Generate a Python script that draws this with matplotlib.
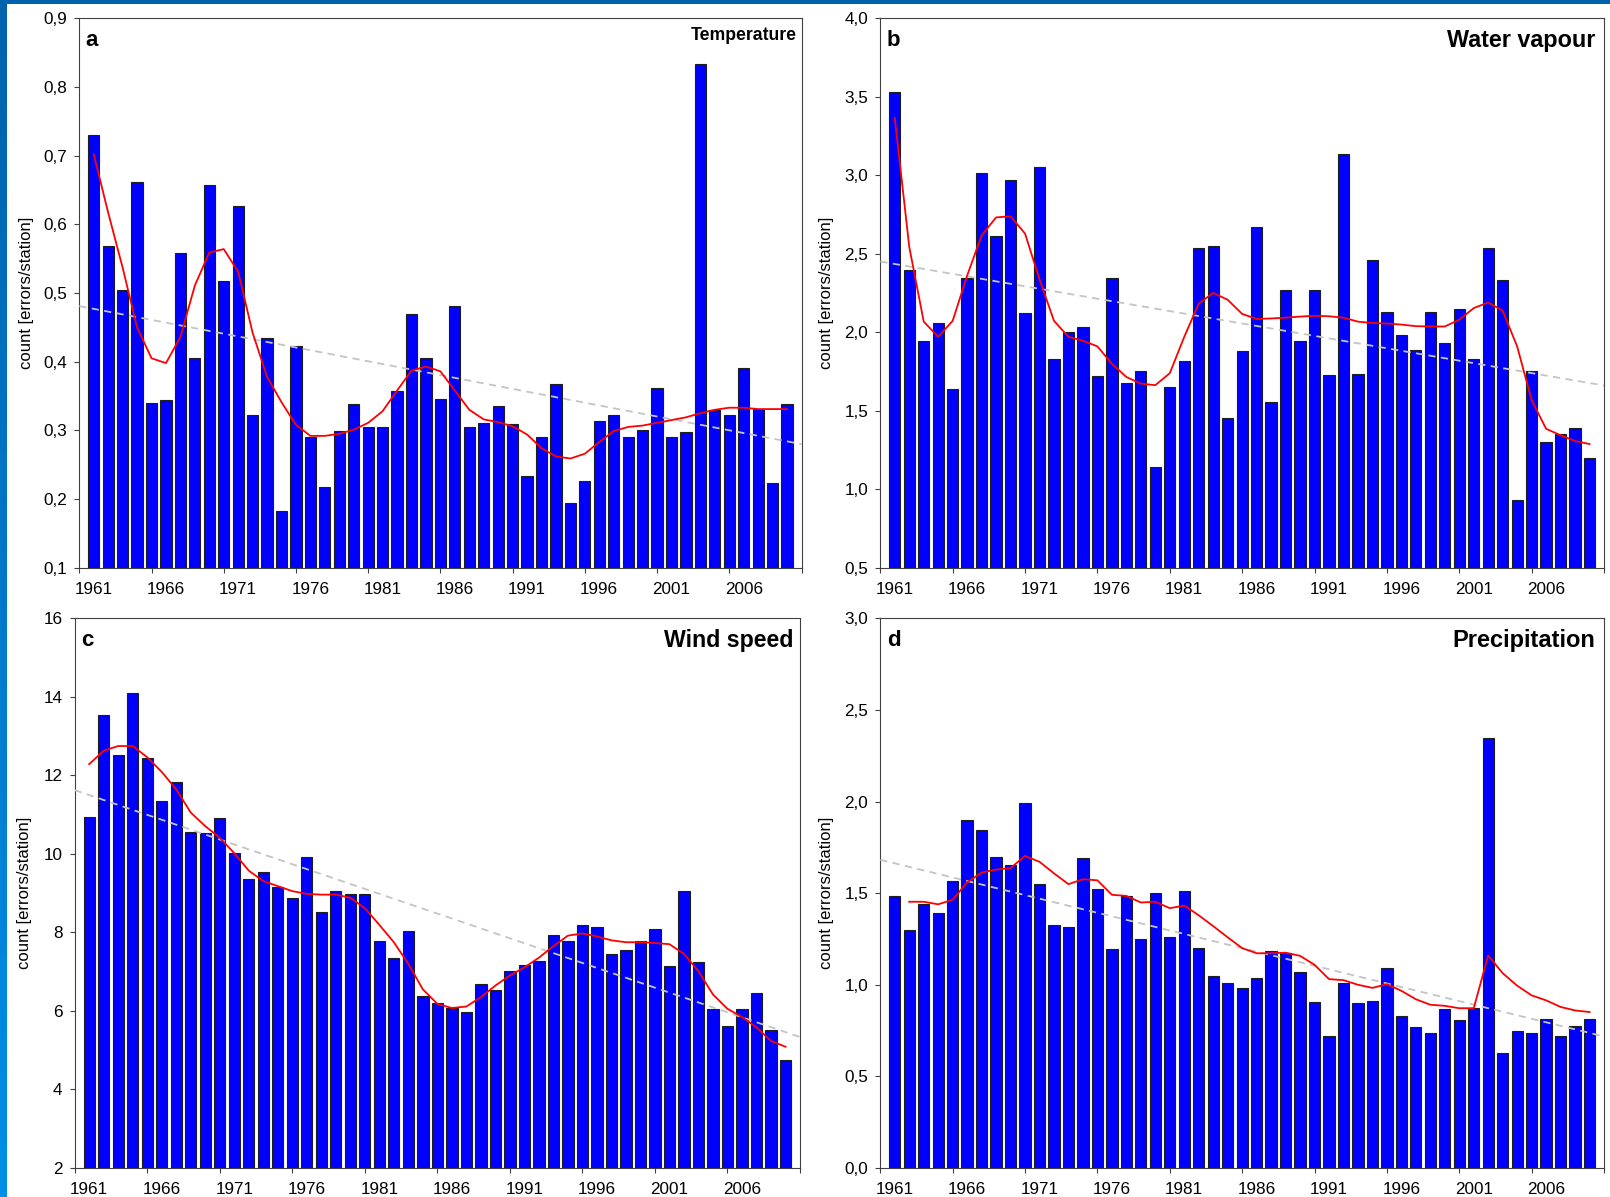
import numpy as np
import matplotlib
matplotlib.use("Agg")
import matplotlib.pyplot as plt
from matplotlib.ticker import FuncFormatter
from matplotlib.colors import LinearSegmentedColormap
from matplotlib.patches import Rectangle

# ---------------- data ----------------
years = list(range(1961, 2010))
trend_years = [1960, 2010]
x_major_ticks = [1960, 1965, 1970, 1975, 1980, 1985, 1990, 1995, 2000, 2005, 2010]
x_tick_labels = [1961, 1966, 1971, 1976, 1981, 1986, 1991, 1996, 2001, 2006]

temp_bars = [0.730, 0.569, 0.504, 0.662, 0.340, 0.344, 0.559, 0.406, 0.658, 0.518,
             0.627, 0.323, 0.435, 0.182, 0.423, 0.291, 0.218, 0.299, 0.338, 0.305,
             0.305, 0.357, 0.470, 0.406, 0.346, 0.481, 0.305, 0.311, 0.335, 0.309,
             0.234, 0.291, 0.367, 0.194, 0.226, 0.314, 0.323, 0.291, 0.300, 0.361,
             0.290, 0.297, 0.833, 0.330, 0.322, 0.391, 0.331, 0.223, 0.338]
temp_smooth = [0.702, 0.617, 0.537, 0.450, 0.405, 0.398, 0.436, 0.511, 0.559, 0.564,
               0.531, 0.442, 0.378, 0.341, 0.308, 0.292, 0.292, 0.295, 0.301, 0.311,
               0.328, 0.358, 0.387, 0.393, 0.386, 0.358, 0.330, 0.316, 0.312, 0.306,
               0.294, 0.274, 0.262, 0.259, 0.266, 0.283, 0.299, 0.305, 0.307, 0.311,
               0.315, 0.319, 0.325, 0.330, 0.333, 0.333, 0.331, 0.331, 0.331]
temp_trend = [0.481, 0.280]

vap_bars = [3.532, 2.395, 1.944, 2.056, 1.637, 2.344, 3.017, 2.612, 2.971, 2.120,
            3.051, 1.827, 2.005, 2.034, 1.722, 2.349, 1.680, 1.751, 1.139, 1.654,
            1.817, 2.534, 2.551, 1.454, 1.883, 2.671, 1.556, 2.268, 1.944, 2.268,
            1.729, 3.137, 1.734, 2.459, 2.127, 1.983, 1.890, 2.129, 1.929, 2.149,
            1.827, 2.539, 2.332, 0.932, 1.756, 1.300, 1.349, 1.390, 1.202]
vap_smooth = [3.366, 2.544, 2.068, 1.971, 2.073, 2.361, 2.617, 2.732, 2.739, 2.629,
              2.337, 2.073, 1.971, 1.946, 1.910, 1.800, 1.715, 1.673, 1.663, 1.739,
              1.971, 2.183, 2.251, 2.207, 2.117, 2.085, 2.088, 2.093, 2.100, 2.105,
              2.102, 2.093, 2.068, 2.059, 2.056, 2.049, 2.039, 2.037, 2.037, 2.080,
              2.154, 2.190, 2.137, 1.910, 1.568, 1.385, 1.344, 1.307, 1.288]
vap_trend = [2.451, 1.661]

wind_bars = [10.943, 13.536, 12.520, 14.107, 12.432, 11.338, 11.821, 10.549, 10.520, 10.914,
             10.027, 9.356, 9.544, 9.169, 8.873, 9.908, 8.509, 9.061, 8.982, 8.982,
             7.769, 7.355, 8.026, 6.370, 6.192, 6.064, 5.966, 6.695, 6.537, 7.030,
             7.178, 7.267, 7.937, 7.769, 8.183, 8.134, 7.454, 7.543, 7.769, 8.095,
             7.139, 9.061, 7.247, 6.054, 5.620, 6.054, 6.449, 5.502, 4.743]
wind_smooth = [12.284, 12.629, 12.747, 12.747, 12.461, 12.087, 11.643, 11.052, 10.707, 10.411,
               10.017, 9.573, 9.307, 9.179, 9.051, 8.982, 8.962, 8.962, 8.883, 8.617,
               8.193, 7.750, 7.200, 6.550, 6.180, 6.074, 6.113, 6.350, 6.646, 6.902,
               7.109, 7.355, 7.651, 7.917, 7.976, 7.897, 7.799, 7.750, 7.750, 7.730,
               7.700, 7.454, 7.010, 6.419, 6.054, 5.847, 5.581, 5.236, 5.088]
wind_trend = [11.624, 5.335]

prec_bars = [1.487, 1.301, 1.443, 1.390, 1.565, 1.897, 1.846, 1.698, 1.656, 1.990,
             1.551, 1.325, 1.314, 1.694, 1.523, 1.194, 1.483, 1.251, 1.502, 1.261,
             1.513, 1.198, 1.048, 1.010, 0.980, 1.039, 1.187, 1.175, 1.069, 0.906,
             0.718, 1.010, 0.900, 0.910, 1.090, 0.832, 0.769, 0.735, 0.868, 0.805,
             0.872, 2.345, 0.625, 0.750, 0.735, 0.813, 0.718, 0.777, 0.813]
prec_smooth_years = list(range(1962, 2010))
prec_smooth = [1.453, 1.453, 1.439, 1.464, 1.559, 1.612, 1.629, 1.637, 1.703,
               1.671, 1.608, 1.549, 1.576, 1.570, 1.491, 1.485, 1.449, 1.453, 1.418,
               1.432, 1.379, 1.320, 1.259, 1.200, 1.172, 1.172, 1.175, 1.158, 1.109,
               1.031, 1.025, 1.000, 0.983, 1.003, 0.967, 0.921, 0.891, 0.885, 0.872,
               0.872, 1.160, 1.063, 0.995, 0.942, 0.915, 0.879, 0.860, 0.851]
prec_trend = [1.682, 0.718]

ylabel_text = "count [errors/station]"

# ---------------- figure ----------------
plt.rcParams['font.family'] = ['Liberation Sans', 'DejaVu Sans']
W, H = 1610, 1197
fig = plt.figure(figsize=(W / 100, H / 100), dpi=100)
fig.patch.set_facecolor('white')

# decorative blue frame strips
sax = fig.add_axes([0, 0, 6 / W, 1])
grad = np.linspace(0, 1, 256).reshape(-1, 1)
cmap = LinearSegmentedColormap.from_list('strip', ['#0062AC', '#008FE6'])
sax.imshow(grad, aspect='auto', cmap=cmap, extent=[0, 1, 1, 0])
sax.axis('off')
fig.patches.append(Rectangle((0, 1 - 4 / H), 1, 4 / H, transform=fig.transFigure,
                             facecolor='#0062AC', edgecolor='none', zorder=10))


def comma1(v, p):
    return f"{v:.1f}".replace('.', ',')


def integer(v, p):
    return f"{v:.0f}"


def panel(rect, bars, sm_years, smooth, trend, ylim, yticks, fmt,
          letter, title, tsize, tdx, tdy, ylab_x):
    l, r, t, b = rect
    ax = fig.add_axes([l / W, 1 - b / H, (r - l) / W, (b - t) / H])
    wpx, hpx = r - l, b - t
    ax.bar(years, bars, width=0.78, color='#0000FF', edgecolor='#1e1e1e',
           linewidth=0.8, zorder=2)
    ax.plot(trend_years, trend, color='#C4C4C4', lw=1.3, ls=(0, (4, 3)), zorder=3)
    ax.plot(sm_years, smooth, color='#FF0000', lw=1.3, zorder=4)
    ax.set_xlim(1960, 2010)
    ax.set_ylim(*ylim)
    ax.set_yticks(yticks)
    ax.yaxis.set_major_formatter(FuncFormatter(fmt))
    ax.set_xticks(x_major_ticks)
    ax.set_xticklabels([])
    ax.set_xticks(x_tick_labels, minor=True)
    ax.set_xticklabels([str(y) for y in x_tick_labels], minor=True)
    ax.tick_params(axis='x', which='minor', length=0, pad=10, labelsize=12.3)
    ax.tick_params(axis='x', which='major', length=3.3, width=0.8, color='#404040')
    ax.tick_params(axis='y', length=3.3, width=0.8, color='#404040', pad=5.5,
                   labelsize=12.3)
    for s in ax.spines.values():
        s.set_color('#404040')
        s.set_linewidth(0.8)
    ax.text(6.5 / wpx, 1 - 28 / hpx, letter, transform=ax.transAxes,
            ha='left', va='baseline', fontsize=16, fontweight='bold')
    ax.text(1 - tdx / wpx, 1 - tdy / hpx, title, transform=ax.transAxes,
            ha='right', va='baseline', fontsize=tsize, fontweight='bold')
    fig.text(ylab_x / W, 1 - ((t + b) / 2) / H, ylabel_text, rotation=90,
             ha='center', va='center', fontsize=12)
    return ax


panel((79.3, 801.5, 18.4, 567.7), temp_bars, years, temp_smooth, temp_trend,
      (0.1, 0.9), [0.1, 0.2, 0.3, 0.4, 0.5, 0.6, 0.7, 0.8, 0.9], comma1,
      'a', 'Temperature', 12.7, 4.8, 21.6, 26)
panel((880.3, 1604, 18.4, 567.7), vap_bars, years, vap_smooth, vap_trend,
      (0.5, 4.0), [0.5, 1.0, 1.5, 2.0, 2.5, 3.0, 3.5, 4.0], comma1,
      'b', 'Water vapour', 16.8, 9, 28.3, 826.7)
panel((74.7, 800, 618.3, 1168), wind_bars, years, wind_smooth, wind_trend,
      (2, 16), [2, 4, 6, 8, 10, 12, 14, 16], integer,
      'c', 'Wind speed', 16.7, 6.7, 28.6, 25)
panel((880.3, 1604, 618.3, 1168), prec_bars, prec_smooth_years, prec_smooth, prec_trend,
      (0.0, 3.0), [0.0, 0.5, 1.0, 1.5, 2.0, 2.5, 3.0], comma1,
      'd', 'Precipitation', 17, 9, 28.6, 826.7)

fig.savefig('out.png', dpi=100)
